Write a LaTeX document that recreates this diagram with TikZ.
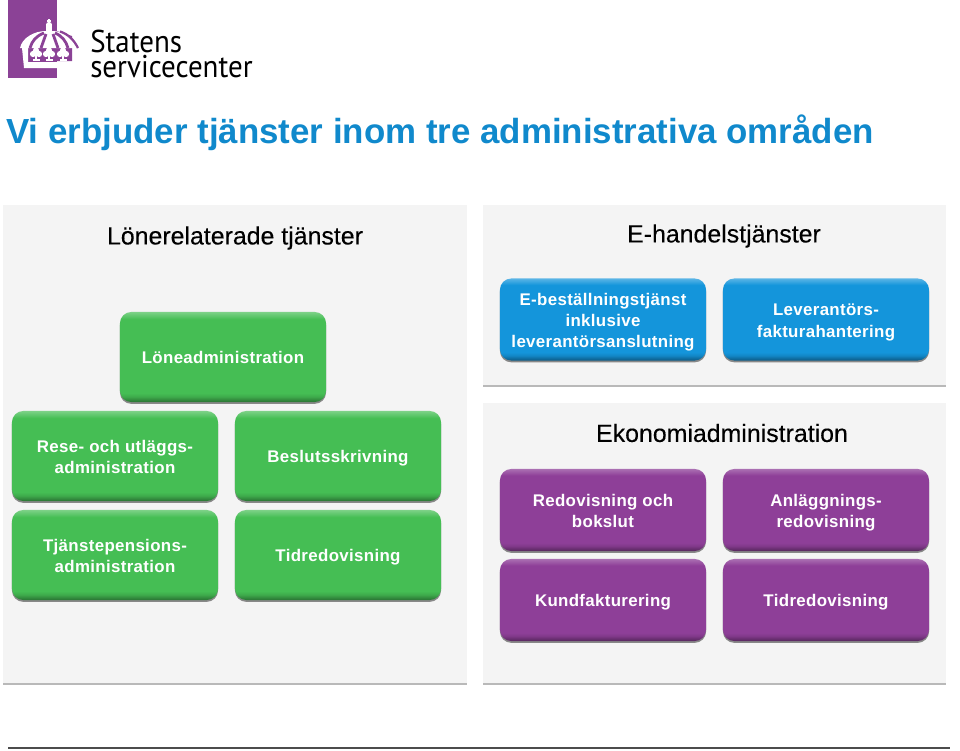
\documentclass[tikz,border=0pt]{standalone}
\usepackage{fontspec}
\setmainfont{Liberation Sans}
\newfontfamily\logofont{PT Sans}
\newfontfamily\rubrikfont[FakeBold=0.2]{Liberation Sans}
\newfontfamily\boxfont[LetterSpace=2]{Liberation Sans Bold}
\usetikzlibrary{shadows}

\definecolor{titleblue}{HTML}{1089CC}
\definecolor{panelgrey}{HTML}{F4F4F4}
\definecolor{boxgreen}{HTML}{45BE54}
\definecolor{boxblue}{HTML}{1495DB}
\definecolor{boxpurple}{HTML}{8E3F98}
\definecolor{logopurple}{HTML}{8B4296}

\pgfdeclareverticalshading{greenshade}{100bp}{color(0bp)=(boxgreen!60!black); color(25bp)=(boxgreen!60!black); color(28bp)=(boxgreen!90!black); color(30bp)=(boxgreen); color(71bp)=(boxgreen); color(75bp)=(boxgreen!70!white); color(100bp)=(boxgreen!70!white)}
\pgfdeclareverticalshading{blueshade}{100bp}{color(0bp)=(boxblue!60!black); color(25bp)=(boxblue!60!black); color(28bp)=(boxblue!90!black); color(30bp)=(boxblue); color(71bp)=(boxblue); color(75bp)=(boxblue!70!white); color(100bp)=(boxblue!70!white)}
\pgfdeclareverticalshading{purpleshade}{100bp}{color(0bp)=(boxpurple!60!black); color(25bp)=(boxpurple!60!black); color(28bp)=(boxpurple!90!black); color(30bp)=(boxpurple); color(71bp)=(boxpurple); color(75bp)=(boxpurple!75!white); color(100bp)=(boxpurple!75!white)}

\newcommand{\radtopp}{\rule{0pt}{14.5pt}}

\tikzset{
  panel/.style={fill=panelgrey, draw=none, drop shadow={shadow xshift=0pt, shadow yshift=-1.3pt, fill=black!50, opacity=0.55}},
  tjanstbox/.style={rounded corners=8pt, minimum width=5.15cm, align=center, text=white, draw=none,
    font=\boxfont\fontsize{12}{15.2}\selectfont,
    drop shadow={shadow xshift=0pt, shadow yshift=-1.3pt, fill=black!75, opacity=0.6}},
  greenbox/.style={tjanstbox, shade, shading=greenshade, minimum height=2.25cm},
  bluebox/.style={tjanstbox, shade, shading=blueshade, minimum height=2.05cm},
  purplebox/.style={tjanstbox, shade, shading=purpleshade, minimum height=2.05cm},
  rubrik/.style={font=\rubrikfont\fontsize{17.7}{20}\selectfont, text=black},
  logotext/.style={anchor=west, inner sep=0pt, font=\logofont\fontsize{22.4}{22}\selectfont, xscale=0.92}
}

\begin{document}
\begin{tikzpicture}[x=0.025cm, y=-0.025cm]
        \useasboundingbox (0,0) rectangle (960,750);

        % logo
        \fill [logopurple] (8,0) rectangle (57,78);
        \fill [logopurple] (57,31) -- (72,36) -- (72,61) -- (57,61) -- cycle;
        \fill [white] (20,48) .. controls (22,38) and (34,31) .. (46,31) -- (52,31) .. controls (64,31) and (74,38) .. (78,48) -- cycle;
        \fill [white] (46,31) rectangle (52,26);
        \fill [white] (49,25) circle (2.2pt);
        \draw [white, thick] (49,19) -- (49,24) (47,21) -- (51,21);
        \draw [logopurple, line width=2pt] (44,33) .. controls (36,36) and (32,41) .. (30,48);
        \draw [logopurple, line width=2pt] (46,34) -- (41,48);
        \draw [logopurple, line width=2pt] (53,34) -- (58,48);
        \draw [logopurple, line width=2pt] (55,33) .. controls (62,36) and (66,41) .. (68,48);
        \draw [logopurple, line width=1.6pt] (60,31.5) .. controls (68,34) and (74,40) .. (78,48);
        \fill [white] (22,48) -- (28,48) -- (28,62) -- (68,62) -- (68,68) -- (24,68) -- cycle;
        \foreach \kx in {36,49,63} {
          \fill [white] (\kx,50.5) circle (2.2pt) (\kx-3,54) circle (2.2pt) (\kx+3,54) circle (2.2pt);
          \fill [white] (\kx-1,54) rectangle (\kx+1,60);
          \fill [white] (\kx-3.5,59) rectangle (\kx+3.5,61);
        }
        \node (statens) [logotext] at (90,41) {Statens};
        \node (service) [logotext] at (90,67) {servicecenter};

        \node (titel) [anchor=west, inner sep=0pt, text=titleblue, font=\fontsize{24.8}{28}\selectfont\bfseries] at (6,133) {Vi erbjuder tjänster inom tre administrativa områden};

        % panels
        \fill [panel] (3,205) rectangle (467,683);
        \fill [panel] (483,205) rectangle (946,385);
        \fill [panel] (483,403) rectangle (946,683);

        \node (lonerub) [rubrik] at (235,238) {Lönerelaterade tjänster};
        \node (handelrub) [rubrik] at (724,236) {E-handelstjänster};
        \node (ekonomirub) [rubrik] at (722,433) {Ekonomiadministration};

        % green
        \node (lone) [greenbox] at (223,357) {\radtopp Löneadministration\strut};
        \node (rese) [greenbox] at (115,456) {\radtopp Rese- och utläggs-\\administration\strut};
        \node (pension) [greenbox] at (115,555) {\radtopp Tjänstepensions-\\administration\strut};
        \node (beslut) [greenbox] at (338,456) {\radtopp Beslutsskrivning\strut};
        \node (tidgreen) [greenbox] at (338,555) {\radtopp Tidredovisning\strut};

        % blue
        \node (bestall) [bluebox] at (603,319.5) {\radtopp E-beställningstjänst\\inklusive\\leverantörsanslutning\strut};
        \node (faktura) [bluebox] at (826,319.5) {\radtopp Leverantörs-\\fakturahantering\strut};

        % purple
        \node (redov) [purplebox] at (603,510) {\radtopp Redovisning och\\bokslut\strut};
        \node (anlagg) [purplebox] at (826,510) {\radtopp Anläggnings-\\redovisning\strut};
        \node (kund) [purplebox] at (603,600) {\radtopp Kundfakturering\strut};
        \node (tidpurple) [purplebox] at (826,600) {\radtopp Tidredovisning\strut};

        \coordinate (linjestart) at (8,748);
        \coordinate (linjeslut) at (950,748);
        \draw [black!70, thick] (linjestart) -- (linjeslut);
\end{tikzpicture}
\end{document}
